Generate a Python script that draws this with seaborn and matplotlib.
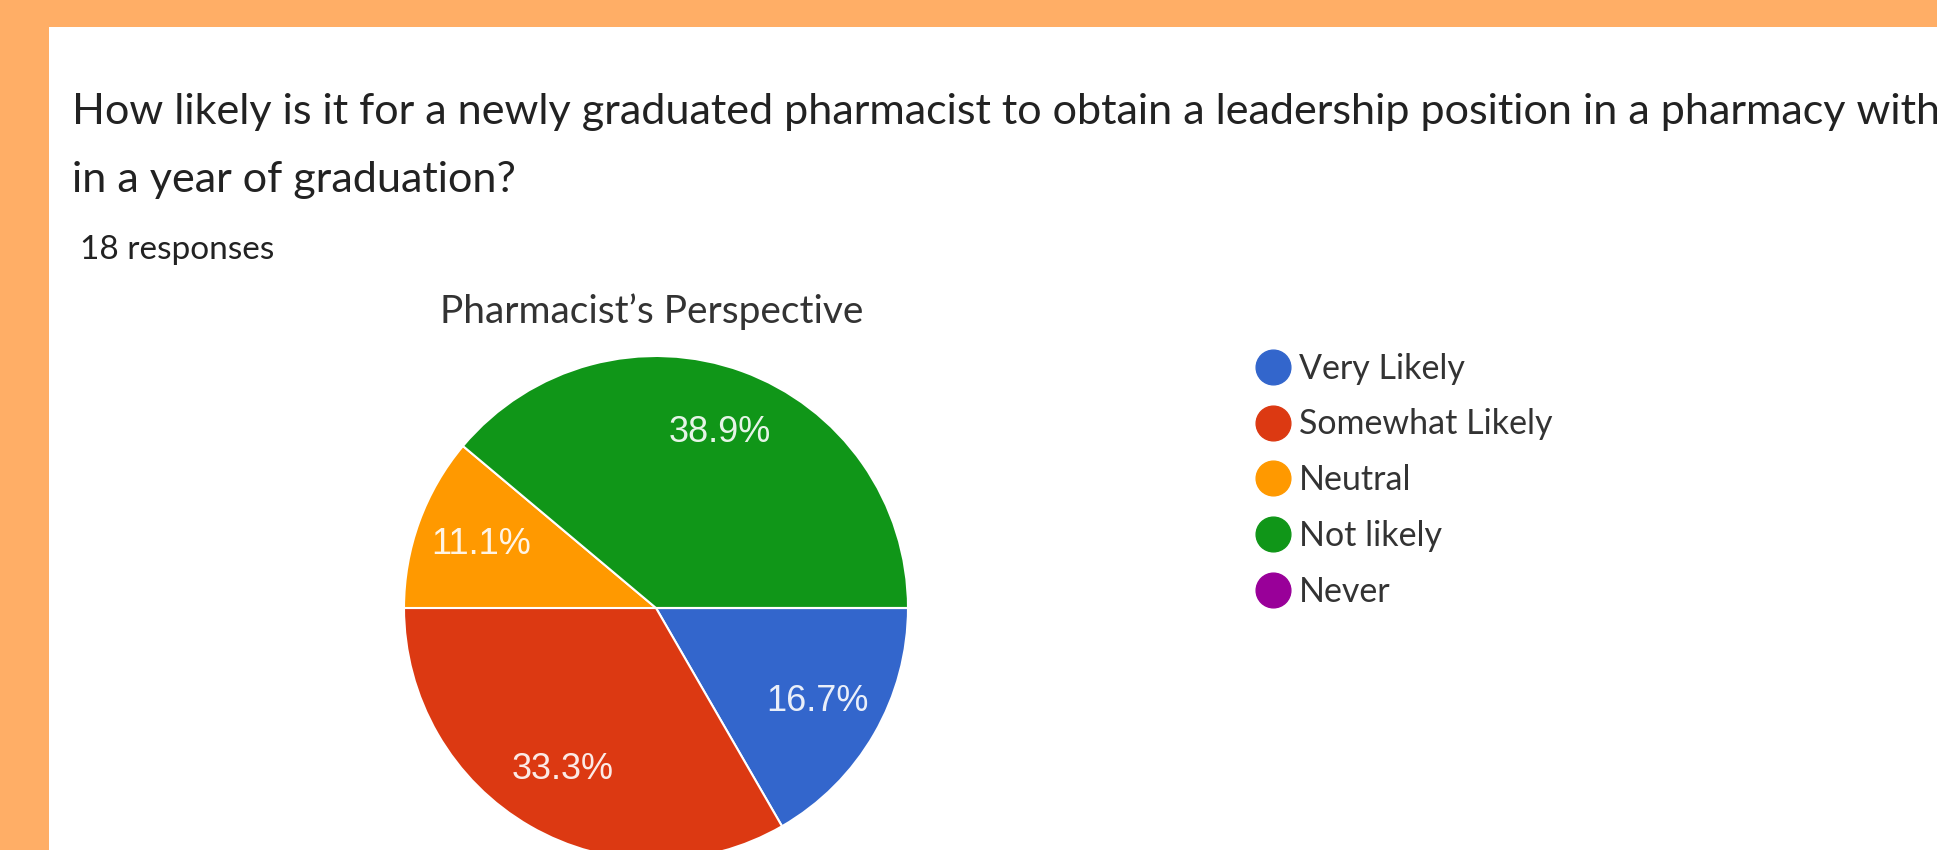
import matplotlib
matplotlib.use("Agg")
import matplotlib.pyplot as plt
from matplotlib.patches import Rectangle
from matplotlib.lines import Line2D
import seaborn as sns

# Survey answers (18 responses)
categories = ["Very Likely", "Somewhat Likely", "Neutral", "Not likely", "Never"]
counts = [3, 6, 2, 7, 0]
colors_hex = ["#3366CC", "#DC3912", "#FF9900", "#109618", "#990099"]

question_line1 = ("How likely is it for a newly graduated pharmacist to obtain a "
                  "leadership position in a pharmacy with")
question_line2 = "in a year of graduation?"
responses_text = "18 responses"
chart_title = "Pharmacist\u2019s Perspective"

sns.set_theme(style="white")
plt.rcParams["font.family"] = ["Lato", "DejaVu Sans"]

W, H, DPI = 1937, 850, 100
fig = plt.figure(figsize=(W / DPI, H / DPI), dpi=DPI)
fig.patch.set_facecolor("#FFAE66")

# white card with orange frame on top and left
fig.patches.append(Rectangle((49 / W, 0), 1 - 49 / W, 1 - 27 / H,
                             transform=fig.transFigure, facecolor="white",
                             edgecolor="none", zorder=-5))

txt = "#222222"
fig.text(72 / W, 1 - 112 / H, question_line1, fontsize=31.1, color=txt,
         va="center", ha="left")
fig.text(72 / W, 1 - 180 / H, question_line2, fontsize=31.1, color=txt,
         va="center", ha="left")
fig.text(80 / W, 1 - 250 / H, responses_text, fontsize=24, color=txt,
         va="center", ha="left")
fig.text(652 / W, 1 - 312 / H, chart_title, fontsize=28, color="#333333",
         va="center", ha="center")

# pie axes: centre (656, 608) px, radius 252 px
cx, cy, r = 656, 608, 252
ax = fig.add_axes([(cx - r) / W, (H - cy - r) / H, 2 * r / W, 2 * r / H])
palette = sns.color_palette(colors_hex)


def pct_label(p):
    return f"{p:.1f}%" if p > 0 else ""


wedges, _, autotexts = ax.pie(
    counts, colors=palette, startangle=0, counterclock=False,
    autopct=pct_label, pctdistance=0.74, radius=1,
    wedgeprops=dict(edgecolor="white", linewidth=1.5),
    textprops=dict(color="white", fontsize=26,
                   family=["Liberation Sans", "DejaVu Sans"]))
for t in autotexts:
    t.set_alpha(0.9)
ax.set_xlim(-1, 1)
ax.set_ylim(-1, 1)
ax.set_aspect("equal")
ax.axis("off")

handles = [Line2D([0], [0], marker="o", linestyle="none", markersize=25,
                  markerfacecolor=c, markeredgecolor=c) for c in palette]
leg = fig.legend(handles, categories, loc="upper left",
                 bbox_to_anchor=(1222 / W, 1 - 322 / H), frameon=False,
                 fontsize=24.5, labelspacing=0.70, handletextpad=0.15,
                 handlelength=1.2, labelcolor="#333333")

fig.savefig("out.png", dpi=DPI, facecolor=fig.get_facecolor())
